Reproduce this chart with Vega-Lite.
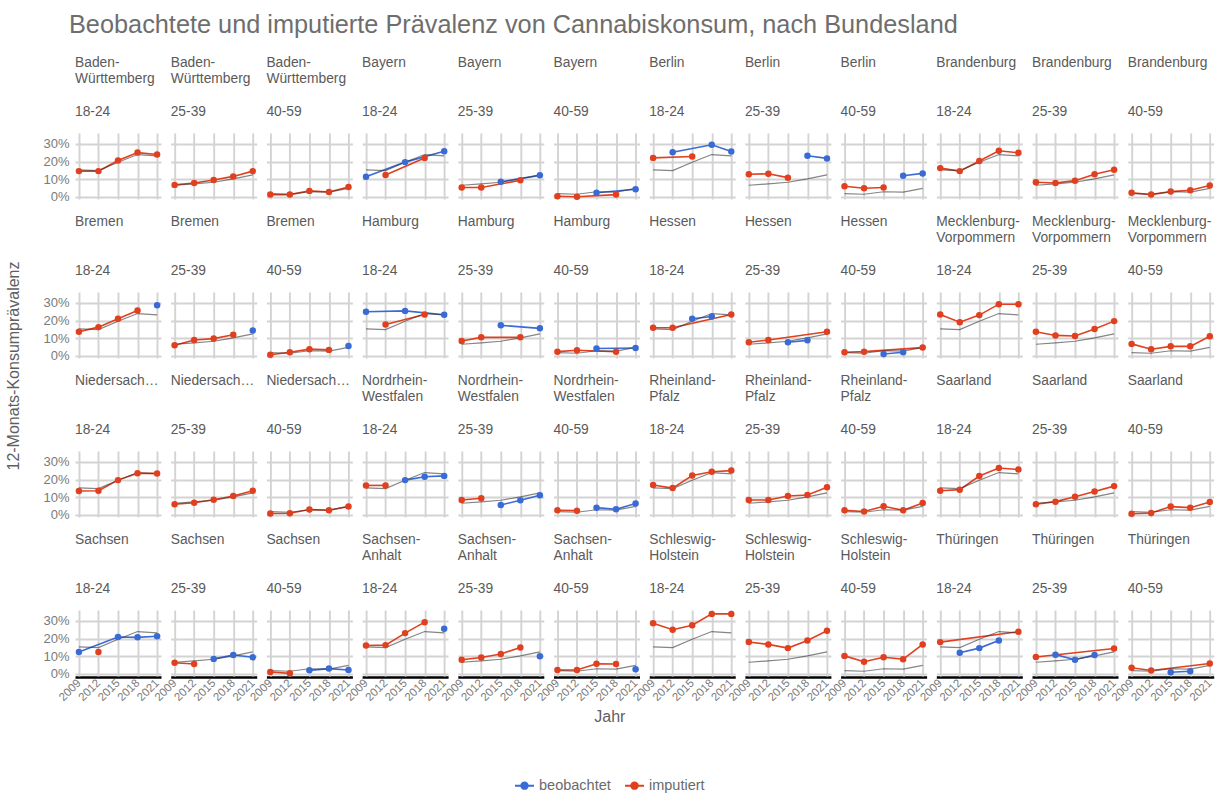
{
  "$schema": "https://vega.github.io/schema/vega-lite/v6.json",
  "padding": {"top": 12, "left": 5, "right": 5, "bottom": 5},
  "title": {"text": "Beobachtete und imputierte Prävalenz von Cannabiskonsum, nach Bundesland", "anchor": "start", "fontSize": 25.3, "fontWeight": "normal", "color": "#6e6e6e", "dx": 63, "offset": 18},
  "data": {"values": [
    {"land":"Baden-Württemberg","alter":"18-24","jahr":2009,"status":"imputiert","wert":14.6,"national":15.3},
    {"land":"Baden-Württemberg","alter":"18-24","jahr":2012,"status":"imputiert","wert":14.6,"national":14.9},
    {"land":"Baden-Württemberg","alter":"18-24","jahr":2015,"status":"imputiert","wert":20.6,"national":19.6},
    {"land":"Baden-Württemberg","alter":"18-24","jahr":2018,"status":"imputiert","wert":25.1,"national":24.0},
    {"land":"Baden-Württemberg","alter":"18-24","jahr":2021,"status":"imputiert","wert":24.0,"national":23.2},
    {"land":"Baden-Württemberg","alter":"25-39","jahr":2009,"status":"imputiert","wert":6.8,"national":6.6},
    {"land":"Baden-Württemberg","alter":"25-39","jahr":2012,"status":"imputiert","wert":7.9,"national":7.4},
    {"land":"Baden-Württemberg","alter":"25-39","jahr":2015,"status":"imputiert","wert":9.6,"national":8.3},
    {"land":"Baden-Württemberg","alter":"25-39","jahr":2018,"status":"imputiert","wert":11.6,"national":10.2},
    {"land":"Baden-Württemberg","alter":"25-39","jahr":2021,"status":"imputiert","wert":14.6,"national":12.5},
    {"land":"Baden-Württemberg","alter":"40-59","jahr":2009,"status":"imputiert","wert":1.3,"national":1.8},
    {"land":"Baden-Württemberg","alter":"40-59","jahr":2012,"status":"imputiert","wert":1.3,"national":1.5},
    {"land":"Baden-Württemberg","alter":"40-59","jahr":2015,"status":"imputiert","wert":3.4,"national":2.9},
    {"land":"Baden-Württemberg","alter":"40-59","jahr":2018,"status":"imputiert","wert":2.8,"national":2.7},
    {"land":"Baden-Württemberg","alter":"40-59","jahr":2021,"status":"imputiert","wert":5.6,"national":4.8},
    {"land":"Bayern","alter":"18-24","jahr":2009,"status":"beobachtet","wert":11.4,"national":15.3},
    {"land":"Bayern","alter":"18-24","jahr":2012,"status":"imputiert","wert":12.4,"national":14.9},
    {"land":"Bayern","alter":"18-24","jahr":2015,"status":"beobachtet","wert":19.7,"national":19.6},
    {"land":"Bayern","alter":"18-24","jahr":2018,"status":"imputiert","wert":22.0,"national":24.0},
    {"land":"Bayern","alter":"18-24","jahr":2021,"status":"beobachtet","wert":25.9,"national":23.2},
    {"land":"Bayern","alter":"25-39","jahr":2009,"status":"imputiert","wert":5.3,"national":6.6},
    {"land":"Bayern","alter":"25-39","jahr":2012,"status":"imputiert","wert":5.3,"national":7.4},
    {"land":"Bayern","alter":"25-39","jahr":2015,"status":"beobachtet","wert":8.6,"national":8.3},
    {"land":"Bayern","alter":"25-39","jahr":2018,"status":"imputiert","wert":9.4,"national":10.2},
    {"land":"Bayern","alter":"25-39","jahr":2021,"status":"beobachtet","wert":12.2,"national":12.5},
    {"land":"Bayern","alter":"40-59","jahr":2009,"status":"imputiert","wert":0.4,"national":1.8},
    {"land":"Bayern","alter":"40-59","jahr":2012,"status":"imputiert","wert":0.1,"national":1.5},
    {"land":"Bayern","alter":"40-59","jahr":2015,"status":"beobachtet","wert":2.3,"national":2.9},
    {"land":"Bayern","alter":"40-59","jahr":2018,"status":"imputiert","wert":1.3,"national":2.7},
    {"land":"Bayern","alter":"40-59","jahr":2021,"status":"beobachtet","wert":4.3,"national":4.8},
    {"land":"Berlin","alter":"18-24","jahr":2009,"status":"imputiert","wert":22.1,"national":15.3},
    {"land":"Berlin","alter":"18-24","jahr":2012,"status":"beobachtet","wert":25.3,"national":14.9},
    {"land":"Berlin","alter":"18-24","jahr":2015,"status":"imputiert","wert":22.9,"national":19.6},
    {"land":"Berlin","alter":"18-24","jahr":2018,"status":"beobachtet","wert":29.5,"national":24.0},
    {"land":"Berlin","alter":"18-24","jahr":2021,"status":"beobachtet","wert":25.7,"national":23.2},
    {"land":"Berlin","alter":"25-39","jahr":2009,"status":"imputiert","wert":12.8,"national":6.6},
    {"land":"Berlin","alter":"25-39","jahr":2012,"status":"imputiert","wert":13.1,"national":7.4},
    {"land":"Berlin","alter":"25-39","jahr":2015,"status":"imputiert","wert":10.9,"national":8.3},
    {"land":"Berlin","alter":"25-39","jahr":2018,"status":"beobachtet","wert":23.3,"national":10.2},
    {"land":"Berlin","alter":"25-39","jahr":2021,"status":"beobachtet","wert":21.8,"national":12.5},
    {"land":"Berlin","alter":"40-59","jahr":2009,"status":"imputiert","wert":6.0,"national":1.8},
    {"land":"Berlin","alter":"40-59","jahr":2012,"status":"imputiert","wert":4.9,"national":1.5},
    {"land":"Berlin","alter":"40-59","jahr":2015,"status":"imputiert","wert":5.3,"national":2.9},
    {"land":"Berlin","alter":"40-59","jahr":2018,"status":"beobachtet","wert":12.0,"national":2.7},
    {"land":"Berlin","alter":"40-59","jahr":2021,"status":"beobachtet","wert":13.3,"national":4.8},
    {"land":"Brandenburg","alter":"18-24","jahr":2009,"status":"imputiert","wert":16.3,"national":15.3},
    {"land":"Brandenburg","alter":"18-24","jahr":2012,"status":"imputiert","wert":14.6,"national":14.9},
    {"land":"Brandenburg","alter":"18-24","jahr":2015,"status":"imputiert","wert":20.3,"national":19.6},
    {"land":"Brandenburg","alter":"18-24","jahr":2018,"status":"imputiert","wert":26.1,"national":24.0},
    {"land":"Brandenburg","alter":"18-24","jahr":2021,"status":"imputiert","wert":25.0,"national":23.2},
    {"land":"Brandenburg","alter":"25-39","jahr":2009,"status":"imputiert","wert":8.3,"national":6.6},
    {"land":"Brandenburg","alter":"25-39","jahr":2012,"status":"imputiert","wert":7.9,"national":7.4},
    {"land":"Brandenburg","alter":"25-39","jahr":2015,"status":"imputiert","wert":9.2,"national":8.3},
    {"land":"Brandenburg","alter":"25-39","jahr":2018,"status":"imputiert","wert":12.8,"national":10.2},
    {"land":"Brandenburg","alter":"25-39","jahr":2021,"status":"imputiert","wert":15.4,"national":12.5},
    {"land":"Brandenburg","alter":"40-59","jahr":2009,"status":"imputiert","wert":2.3,"national":1.8},
    {"land":"Brandenburg","alter":"40-59","jahr":2012,"status":"imputiert","wert":1.3,"national":1.5},
    {"land":"Brandenburg","alter":"40-59","jahr":2015,"status":"imputiert","wert":3.0,"national":2.9},
    {"land":"Brandenburg","alter":"40-59","jahr":2018,"status":"imputiert","wert":3.8,"national":2.7},
    {"land":"Brandenburg","alter":"40-59","jahr":2021,"status":"imputiert","wert":6.4,"national":4.8},
    {"land":"Bremen","alter":"18-24","jahr":2009,"status":"imputiert","wert":13.7,"national":15.3},
    {"land":"Bremen","alter":"18-24","jahr":2012,"status":"imputiert","wert":16.3,"national":14.9},
    {"land":"Bremen","alter":"18-24","jahr":2015,"status":"imputiert","wert":21.0,"national":19.6},
    {"land":"Bremen","alter":"18-24","jahr":2018,"status":"imputiert","wert":25.7,"national":24.0},
    {"land":"Bremen","alter":"18-24","jahr":2021,"status":"beobachtet","wert":28.7,"national":23.2},
    {"land":"Bremen","alter":"25-39","jahr":2009,"status":"imputiert","wert":6.0,"national":6.6},
    {"land":"Bremen","alter":"25-39","jahr":2012,"status":"imputiert","wert":9.0,"national":7.4},
    {"land":"Bremen","alter":"25-39","jahr":2015,"status":"imputiert","wert":9.8,"national":8.3},
    {"land":"Bremen","alter":"25-39","jahr":2018,"status":"imputiert","wert":12.0,"national":10.2},
    {"land":"Bremen","alter":"25-39","jahr":2021,"status":"beobachtet","wert":14.4,"national":12.5},
    {"land":"Bremen","alter":"40-59","jahr":2009,"status":"imputiert","wert":0.6,"national":1.8},
    {"land":"Bremen","alter":"40-59","jahr":2012,"status":"imputiert","wert":2.1,"national":1.5},
    {"land":"Bremen","alter":"40-59","jahr":2015,"status":"imputiert","wert":3.8,"national":2.9},
    {"land":"Bremen","alter":"40-59","jahr":2018,"status":"imputiert","wert":3.4,"national":2.7},
    {"land":"Bremen","alter":"40-59","jahr":2021,"status":"beobachtet","wert":5.6,"national":4.8},
    {"land":"Hamburg","alter":"18-24","jahr":2009,"status":"beobachtet","wert":25.0,"national":15.3},
    {"land":"Hamburg","alter":"18-24","jahr":2012,"status":"imputiert","wert":17.8,"national":14.9},
    {"land":"Hamburg","alter":"18-24","jahr":2015,"status":"beobachtet","wert":25.5,"national":19.6},
    {"land":"Hamburg","alter":"18-24","jahr":2018,"status":"imputiert","wert":23.5,"national":24.0},
    {"land":"Hamburg","alter":"18-24","jahr":2021,"status":"beobachtet","wert":23.3,"national":23.2},
    {"land":"Hamburg","alter":"25-39","jahr":2009,"status":"imputiert","wert":8.4,"national":6.6},
    {"land":"Hamburg","alter":"25-39","jahr":2012,"status":"imputiert","wert":10.5,"national":7.4},
    {"land":"Hamburg","alter":"25-39","jahr":2015,"status":"beobachtet","wert":17.3,"national":8.3},
    {"land":"Hamburg","alter":"25-39","jahr":2018,"status":"imputiert","wert":10.5,"national":10.2},
    {"land":"Hamburg","alter":"25-39","jahr":2021,"status":"beobachtet","wert":15.6,"national":12.5},
    {"land":"Hamburg","alter":"40-59","jahr":2009,"status":"imputiert","wert":2.4,"national":1.8},
    {"land":"Hamburg","alter":"40-59","jahr":2012,"status":"imputiert","wert":3.2,"national":1.5},
    {"land":"Hamburg","alter":"40-59","jahr":2015,"status":"beobachtet","wert":4.2,"national":2.9},
    {"land":"Hamburg","alter":"40-59","jahr":2018,"status":"imputiert","wert":2.3,"national":2.7},
    {"land":"Hamburg","alter":"40-59","jahr":2021,"status":"beobachtet","wert":4.5,"national":4.8},
    {"land":"Hessen","alter":"18-24","jahr":2009,"status":"imputiert","wert":15.9,"national":15.3},
    {"land":"Hessen","alter":"18-24","jahr":2012,"status":"imputiert","wert":15.9,"national":14.9},
    {"land":"Hessen","alter":"18-24","jahr":2015,"status":"beobachtet","wert":21.0,"national":19.6},
    {"land":"Hessen","alter":"18-24","jahr":2018,"status":"beobachtet","wert":22.3,"national":24.0},
    {"land":"Hessen","alter":"18-24","jahr":2021,"status":"imputiert","wert":23.5,"national":23.2},
    {"land":"Hessen","alter":"25-39","jahr":2009,"status":"imputiert","wert":7.7,"national":6.6},
    {"land":"Hessen","alter":"25-39","jahr":2012,"status":"imputiert","wert":9.0,"national":7.4},
    {"land":"Hessen","alter":"25-39","jahr":2015,"status":"beobachtet","wert":7.7,"national":8.3},
    {"land":"Hessen","alter":"25-39","jahr":2018,"status":"beobachtet","wert":8.8,"national":10.2},
    {"land":"Hessen","alter":"25-39","jahr":2021,"status":"imputiert","wert":13.7,"national":12.5},
    {"land":"Hessen","alter":"40-59","jahr":2009,"status":"imputiert","wert":2.1,"national":1.8},
    {"land":"Hessen","alter":"40-59","jahr":2012,"status":"imputiert","wert":2.4,"national":1.5},
    {"land":"Hessen","alter":"40-59","jahr":2015,"status":"beobachtet","wert":1.1,"national":2.9},
    {"land":"Hessen","alter":"40-59","jahr":2018,"status":"beobachtet","wert":2.1,"national":2.7},
    {"land":"Hessen","alter":"40-59","jahr":2021,"status":"imputiert","wert":4.7,"national":4.8},
    {"land":"Mecklenburg-Vorpommern","alter":"18-24","jahr":2009,"status":"imputiert","wert":23.5,"national":15.3},
    {"land":"Mecklenburg-Vorpommern","alter":"18-24","jahr":2012,"status":"imputiert","wert":19.1,"national":14.9},
    {"land":"Mecklenburg-Vorpommern","alter":"18-24","jahr":2015,"status":"imputiert","wert":23.1,"national":19.6},
    {"land":"Mecklenburg-Vorpommern","alter":"18-24","jahr":2018,"status":"imputiert","wert":29.3,"national":24.0},
    {"land":"Mecklenburg-Vorpommern","alter":"18-24","jahr":2021,"status":"imputiert","wert":29.3,"national":23.2},
    {"land":"Mecklenburg-Vorpommern","alter":"25-39","jahr":2009,"status":"imputiert","wert":13.7,"national":6.6},
    {"land":"Mecklenburg-Vorpommern","alter":"25-39","jahr":2012,"status":"imputiert","wert":11.6,"national":7.4},
    {"land":"Mecklenburg-Vorpommern","alter":"25-39","jahr":2015,"status":"imputiert","wert":11.3,"national":8.3},
    {"land":"Mecklenburg-Vorpommern","alter":"25-39","jahr":2018,"status":"imputiert","wert":15.2,"national":10.2},
    {"land":"Mecklenburg-Vorpommern","alter":"25-39","jahr":2021,"status":"imputiert","wert":19.7,"national":12.5},
    {"land":"Mecklenburg-Vorpommern","alter":"40-59","jahr":2009,"status":"imputiert","wert":6.8,"national":1.8},
    {"land":"Mecklenburg-Vorpommern","alter":"40-59","jahr":2012,"status":"imputiert","wert":3.8,"national":1.5},
    {"land":"Mecklenburg-Vorpommern","alter":"40-59","jahr":2015,"status":"imputiert","wert":5.4,"national":2.9},
    {"land":"Mecklenburg-Vorpommern","alter":"40-59","jahr":2018,"status":"imputiert","wert":5.4,"national":2.7},
    {"land":"Mecklenburg-Vorpommern","alter":"40-59","jahr":2021,"status":"imputiert","wert":11.1,"national":4.8},
    {"land":"Niedersachsen","alter":"18-24","jahr":2009,"status":"imputiert","wert":13.5,"national":15.3},
    {"land":"Niedersachsen","alter":"18-24","jahr":2012,"status":"imputiert","wert":13.7,"national":14.9},
    {"land":"Niedersachsen","alter":"18-24","jahr":2015,"status":"imputiert","wert":19.7,"national":19.6},
    {"land":"Niedersachsen","alter":"18-24","jahr":2018,"status":"imputiert","wert":23.6,"national":24.0},
    {"land":"Niedersachsen","alter":"18-24","jahr":2021,"status":"imputiert","wert":23.5,"national":23.2},
    {"land":"Niedersachsen","alter":"25-39","jahr":2009,"status":"imputiert","wert":6.0,"national":6.6},
    {"land":"Niedersachsen","alter":"25-39","jahr":2012,"status":"imputiert","wert":6.9,"national":7.4},
    {"land":"Niedersachsen","alter":"25-39","jahr":2015,"status":"imputiert","wert":8.6,"national":8.3},
    {"land":"Niedersachsen","alter":"25-39","jahr":2018,"status":"imputiert","wert":10.7,"national":10.2},
    {"land":"Niedersachsen","alter":"25-39","jahr":2021,"status":"imputiert","wert":13.7,"national":12.5},
    {"land":"Niedersachsen","alter":"40-59","jahr":2009,"status":"imputiert","wert":0.8,"national":1.8},
    {"land":"Niedersachsen","alter":"40-59","jahr":2012,"status":"imputiert","wert":0.9,"national":1.5},
    {"land":"Niedersachsen","alter":"40-59","jahr":2015,"status":"imputiert","wert":3.0,"national":2.9},
    {"land":"Niedersachsen","alter":"40-59","jahr":2018,"status":"imputiert","wert":2.6,"national":2.7},
    {"land":"Niedersachsen","alter":"40-59","jahr":2021,"status":"imputiert","wert":4.7,"national":4.8},
    {"land":"Nordrhein-Westfalen","alter":"18-24","jahr":2009,"status":"imputiert","wert":16.7,"national":15.3},
    {"land":"Nordrhein-Westfalen","alter":"18-24","jahr":2012,"status":"imputiert","wert":16.7,"national":14.9},
    {"land":"Nordrhein-Westfalen","alter":"18-24","jahr":2015,"status":"beobachtet","wert":19.7,"national":19.6},
    {"land":"Nordrhein-Westfalen","alter":"18-24","jahr":2018,"status":"beobachtet","wert":21.6,"national":24.0},
    {"land":"Nordrhein-Westfalen","alter":"18-24","jahr":2021,"status":"beobachtet","wert":22.1,"national":23.2},
    {"land":"Nordrhein-Westfalen","alter":"25-39","jahr":2009,"status":"imputiert","wert":8.4,"national":6.6},
    {"land":"Nordrhein-Westfalen","alter":"25-39","jahr":2012,"status":"imputiert","wert":9.4,"national":7.4},
    {"land":"Nordrhein-Westfalen","alter":"25-39","jahr":2015,"status":"beobachtet","wert":5.6,"national":8.3},
    {"land":"Nordrhein-Westfalen","alter":"25-39","jahr":2018,"status":"beobachtet","wert":8.3,"national":10.2},
    {"land":"Nordrhein-Westfalen","alter":"25-39","jahr":2021,"status":"beobachtet","wert":11.1,"national":12.5},
    {"land":"Nordrhein-Westfalen","alter":"40-59","jahr":2009,"status":"imputiert","wert":2.6,"national":1.8},
    {"land":"Nordrhein-Westfalen","alter":"40-59","jahr":2012,"status":"imputiert","wert":2.4,"national":1.5},
    {"land":"Nordrhein-Westfalen","alter":"40-59","jahr":2015,"status":"beobachtet","wert":4.1,"national":2.9},
    {"land":"Nordrhein-Westfalen","alter":"40-59","jahr":2018,"status":"beobachtet","wert":3.2,"national":2.7},
    {"land":"Nordrhein-Westfalen","alter":"40-59","jahr":2021,"status":"beobachtet","wert":6.4,"national":4.8},
    {"land":"Rheinland-Pfalz","alter":"18-24","jahr":2009,"status":"imputiert","wert":16.9,"national":15.3},
    {"land":"Rheinland-Pfalz","alter":"18-24","jahr":2012,"status":"imputiert","wert":15.2,"national":14.9},
    {"land":"Rheinland-Pfalz","alter":"18-24","jahr":2015,"status":"imputiert","wert":22.3,"national":19.6},
    {"land":"Rheinland-Pfalz","alter":"18-24","jahr":2018,"status":"imputiert","wert":24.4,"national":24.0},
    {"land":"Rheinland-Pfalz","alter":"18-24","jahr":2021,"status":"imputiert","wert":25.1,"national":23.2},
    {"land":"Rheinland-Pfalz","alter":"25-39","jahr":2009,"status":"imputiert","wert":8.4,"national":6.6},
    {"land":"Rheinland-Pfalz","alter":"25-39","jahr":2012,"status":"imputiert","wert":8.4,"national":7.4},
    {"land":"Rheinland-Pfalz","alter":"25-39","jahr":2015,"status":"imputiert","wert":10.7,"national":8.3},
    {"land":"Rheinland-Pfalz","alter":"25-39","jahr":2018,"status":"imputiert","wert":11.3,"national":10.2},
    {"land":"Rheinland-Pfalz","alter":"25-39","jahr":2021,"status":"imputiert","wert":15.6,"national":12.5},
    {"land":"Rheinland-Pfalz","alter":"40-59","jahr":2009,"status":"imputiert","wert":2.6,"national":1.8},
    {"land":"Rheinland-Pfalz","alter":"40-59","jahr":2012,"status":"imputiert","wert":1.9,"national":1.5},
    {"land":"Rheinland-Pfalz","alter":"40-59","jahr":2015,"status":"imputiert","wert":4.9,"national":2.9},
    {"land":"Rheinland-Pfalz","alter":"40-59","jahr":2018,"status":"imputiert","wert":2.6,"national":2.7},
    {"land":"Rheinland-Pfalz","alter":"40-59","jahr":2021,"status":"imputiert","wert":6.8,"national":4.8},
    {"land":"Saarland","alter":"18-24","jahr":2009,"status":"imputiert","wert":13.7,"national":15.3},
    {"land":"Saarland","alter":"18-24","jahr":2012,"status":"imputiert","wert":14.3,"national":14.9},
    {"land":"Saarland","alter":"18-24","jahr":2015,"status":"imputiert","wert":22.0,"national":19.6},
    {"land":"Saarland","alter":"18-24","jahr":2018,"status":"imputiert","wert":26.6,"national":24.0},
    {"land":"Saarland","alter":"18-24","jahr":2021,"status":"imputiert","wert":25.7,"national":23.2},
    {"land":"Saarland","alter":"25-39","jahr":2009,"status":"imputiert","wert":6.0,"national":6.6},
    {"land":"Saarland","alter":"25-39","jahr":2012,"status":"imputiert","wert":7.5,"national":7.4},
    {"land":"Saarland","alter":"25-39","jahr":2015,"status":"imputiert","wert":10.3,"national":8.3},
    {"land":"Saarland","alter":"25-39","jahr":2018,"status":"imputiert","wert":13.3,"national":10.2},
    {"land":"Saarland","alter":"25-39","jahr":2021,"status":"imputiert","wert":16.3,"national":12.5},
    {"land":"Saarland","alter":"40-59","jahr":2009,"status":"imputiert","wert":0.6,"national":1.8},
    {"land":"Saarland","alter":"40-59","jahr":2012,"status":"imputiert","wert":1.1,"national":1.5},
    {"land":"Saarland","alter":"40-59","jahr":2015,"status":"imputiert","wert":4.7,"national":2.9},
    {"land":"Saarland","alter":"40-59","jahr":2018,"status":"imputiert","wert":4.1,"national":2.7},
    {"land":"Saarland","alter":"40-59","jahr":2021,"status":"imputiert","wert":7.3,"national":4.8},
    {"land":"Sachsen","alter":"18-24","jahr":2009,"status":"beobachtet","wert":12.4,"national":15.3},
    {"land":"Sachsen","alter":"18-24","jahr":2012,"status":"imputiert","wert":12.4,"national":14.9},
    {"land":"Sachsen","alter":"18-24","jahr":2015,"status":"beobachtet","wert":20.9,"national":19.6},
    {"land":"Sachsen","alter":"18-24","jahr":2018,"status":"beobachtet","wert":20.7,"national":24.0},
    {"land":"Sachsen","alter":"18-24","jahr":2021,"status":"beobachtet","wert":21.3,"national":23.2},
    {"land":"Sachsen","alter":"25-39","jahr":2009,"status":"imputiert","wert":6.3,"national":6.6},
    {"land":"Sachsen","alter":"25-39","jahr":2012,"status":"imputiert","wert":5.6,"national":7.4},
    {"land":"Sachsen","alter":"25-39","jahr":2015,"status":"beobachtet","wert":8.5,"national":8.3},
    {"land":"Sachsen","alter":"25-39","jahr":2018,"status":"beobachtet","wert":10.7,"national":10.2},
    {"land":"Sachsen","alter":"25-39","jahr":2021,"status":"beobachtet","wert":9.4,"national":12.5},
    {"land":"Sachsen","alter":"40-59","jahr":2009,"status":"imputiert","wert":1.1,"national":1.8},
    {"land":"Sachsen","alter":"40-59","jahr":2012,"status":"imputiert","wert":0.3,"national":1.5},
    {"land":"Sachsen","alter":"40-59","jahr":2015,"status":"beobachtet","wert":2.0,"national":2.9},
    {"land":"Sachsen","alter":"40-59","jahr":2018,"status":"beobachtet","wert":3.0,"national":2.7},
    {"land":"Sachsen","alter":"40-59","jahr":2021,"status":"beobachtet","wert":2.2,"national":4.8},
    {"land":"Sachsen-Anhalt","alter":"18-24","jahr":2009,"status":"imputiert","wert":16.1,"national":15.3},
    {"land":"Sachsen-Anhalt","alter":"18-24","jahr":2012,"status":"imputiert","wert":16.3,"national":14.9},
    {"land":"Sachsen-Anhalt","alter":"18-24","jahr":2015,"status":"imputiert","wert":23.1,"national":19.6},
    {"land":"Sachsen-Anhalt","alter":"18-24","jahr":2018,"status":"imputiert","wert":29.3,"national":24.0},
    {"land":"Sachsen-Anhalt","alter":"18-24","jahr":2021,"status":"beobachtet","wert":25.6,"national":23.2},
    {"land":"Sachsen-Anhalt","alter":"25-39","jahr":2009,"status":"imputiert","wert":8.0,"national":6.6},
    {"land":"Sachsen-Anhalt","alter":"25-39","jahr":2012,"status":"imputiert","wert":9.3,"national":7.4},
    {"land":"Sachsen-Anhalt","alter":"25-39","jahr":2015,"status":"imputiert","wert":11.3,"national":8.3},
    {"land":"Sachsen-Anhalt","alter":"25-39","jahr":2018,"status":"imputiert","wert":15.0,"national":10.2},
    {"land":"Sachsen-Anhalt","alter":"25-39","jahr":2021,"status":"beobachtet","wert":10.0,"national":12.5},
    {"land":"Sachsen-Anhalt","alter":"40-59","jahr":2009,"status":"imputiert","wert":2.2,"national":1.8},
    {"land":"Sachsen-Anhalt","alter":"40-59","jahr":2012,"status":"imputiert","wert":2.2,"national":1.5},
    {"land":"Sachsen-Anhalt","alter":"40-59","jahr":2015,"status":"imputiert","wert":5.7,"national":2.9},
    {"land":"Sachsen-Anhalt","alter":"40-59","jahr":2018,"status":"imputiert","wert":5.6,"national":2.7},
    {"land":"Sachsen-Anhalt","alter":"40-59","jahr":2021,"status":"beobachtet","wert":2.6,"national":4.8},
    {"land":"Schleswig-Holstein","alter":"18-24","jahr":2009,"status":"imputiert","wert":28.7,"national":15.3},
    {"land":"Schleswig-Holstein","alter":"18-24","jahr":2012,"status":"imputiert","wert":25.0,"national":14.9},
    {"land":"Schleswig-Holstein","alter":"18-24","jahr":2015,"status":"imputiert","wert":27.6,"national":19.6},
    {"land":"Schleswig-Holstein","alter":"18-24","jahr":2018,"status":"imputiert","wert":34.0,"national":24.0},
    {"land":"Schleswig-Holstein","alter":"18-24","jahr":2021,"status":"imputiert","wert":34.0,"national":23.2},
    {"land":"Schleswig-Holstein","alter":"25-39","jahr":2009,"status":"imputiert","wert":18.1,"national":6.6},
    {"land":"Schleswig-Holstein","alter":"25-39","jahr":2012,"status":"imputiert","wert":16.7,"national":7.4},
    {"land":"Schleswig-Holstein","alter":"25-39","jahr":2015,"status":"imputiert","wert":14.6,"national":8.3},
    {"land":"Schleswig-Holstein","alter":"25-39","jahr":2018,"status":"imputiert","wert":18.9,"national":10.2},
    {"land":"Schleswig-Holstein","alter":"25-39","jahr":2021,"status":"imputiert","wert":24.4,"national":12.5},
    {"land":"Schleswig-Holstein","alter":"40-59","jahr":2009,"status":"imputiert","wert":10.2,"national":1.8},
    {"land":"Schleswig-Holstein","alter":"40-59","jahr":2012,"status":"imputiert","wert":6.9,"national":1.5},
    {"land":"Schleswig-Holstein","alter":"40-59","jahr":2015,"status":"imputiert","wert":9.4,"national":2.9},
    {"land":"Schleswig-Holstein","alter":"40-59","jahr":2018,"status":"imputiert","wert":8.3,"national":2.7},
    {"land":"Schleswig-Holstein","alter":"40-59","jahr":2021,"status":"imputiert","wert":16.7,"national":4.8},
    {"land":"Thüringen","alter":"18-24","jahr":2009,"status":"imputiert","wert":18.0,"national":15.3},
    {"land":"Thüringen","alter":"18-24","jahr":2012,"status":"beobachtet","wert":12.0,"national":14.9},
    {"land":"Thüringen","alter":"18-24","jahr":2015,"status":"beobachtet","wert":14.6,"national":19.6},
    {"land":"Thüringen","alter":"18-24","jahr":2018,"status":"beobachtet","wert":18.9,"national":24.0},
    {"land":"Thüringen","alter":"18-24","jahr":2021,"status":"imputiert","wert":23.9,"national":23.2},
    {"land":"Thüringen","alter":"25-39","jahr":2009,"status":"imputiert","wert":9.6,"national":6.6},
    {"land":"Thüringen","alter":"25-39","jahr":2012,"status":"beobachtet","wert":10.9,"national":7.4},
    {"land":"Thüringen","alter":"25-39","jahr":2015,"status":"beobachtet","wert":8.0,"national":8.3},
    {"land":"Thüringen","alter":"25-39","jahr":2018,"status":"beobachtet","wert":10.7,"national":10.2},
    {"land":"Thüringen","alter":"25-39","jahr":2021,"status":"imputiert","wert":14.4,"national":12.5},
    {"land":"Thüringen","alter":"40-59","jahr":2009,"status":"imputiert","wert":3.5,"national":1.8},
    {"land":"Thüringen","alter":"40-59","jahr":2012,"status":"imputiert","wert":1.9,"national":1.5},
    {"land":"Thüringen","alter":"40-59","jahr":2015,"status":"beobachtet","wert":0.9,"national":2.9},
    {"land":"Thüringen","alter":"40-59","jahr":2018,"status":"beobachtet","wert":1.5,"national":2.7},
    {"land":"Thüringen","alter":"40-59","jahr":2021,"status":"imputiert","wert":5.9,"national":4.8}
  ]},
  "vconcat": [
    {
      "title": {"text": "Jahr", "orient": "bottom", "anchor": "middle", "fontSize": 16, "fontWeight": "normal", "color": "#5f5f5f", "offset": 6},
      "transform": [{"calculate": "datum.land + ',' + datum.alter", "as": "panel"}],
      "facet": {
        "field": "panel",
        "type": "nominal",
        "header": {
          "title": "12-Monats-Konsumprävalenz",
          "titleOrient": "left",
          "titleAngle": -90,
          "titleFontSize": 16,
          "titleFontWeight": "normal",
          "titleColor": "#5f5f5f",
          "titlePadding": 4,
          "labelExpr": "indexof(split(datum.value, ',')[0], '-') > 0 ? [split(split(datum.value, ',')[0], '-')[0] + '-', split(split(datum.value, ',')[0], '-')[1], '\u2800', split(datum.value, ',')[1]] : [split(datum.value, ',')[0], '\u2800', '\u2800', split(datum.value, ',')[1]]",
          "labelAlign": "left",
          "labelAnchor": "start",
          "labelFontSize": 13.8,
          "labelColor": "#5a5a5a",
          "labelLineHeight": 16.4,
          "labelBaseline": "bottom",
          "labelPadding": 0,
          "labelLimit": 86
        }
      },
      "columns": 12,
      "spacing": {"row": 15, "column": 9.7},
      "spec": {
        "width": 86,
        "height": 66,
        "layer": [
          {
            "mark": {"type": "line", "strokeWidth": 1.6},
            "encoding": {
              "x": {
                "field": "jahr", "type": "quantitative", "title": null,
                "scale": {"domain": [2008.4, 2021.6], "nice": false, "zero": false},
                "axis": {"values": [2009, 2012, 2015, 2018, 2021], "tickCount": 10, "format": "d", "labelAngle": -45, "labelAlign": "right", "labelBaseline": "middle", "labelPadding": 4, "labelOverlap": false, "labelFlush": false}
              },
              "y": {
                "field": "wert", "type": "quantitative", "title": null,
                "scale": {"domain": [-1.2, 36.2], "nice": false, "zero": false},
                "axis": {"values": [0, 10, 20, 30], "tickCount": 10, "labelExpr": "datum.value + '%'", "domain": false, "labelOverlap": false, "labelFlush": false, "labelPadding": 6}
              },
              "color": {
                "field": "status", "type": "nominal",
                "scale": {"domain": ["beobachtet", "imputiert"], "range": ["#3a6bd5", "#e0401f"]},
                "legend": {
                  "title": null, "orient": "bottom", "direction": "horizontal",
                  "symbolType": "M-1,0L1,0M0.34,0A0.34,0.34,0,1,1,-0.34,0A0.34,0.34,0,1,1,0.34,0",
                  "symbolSize": 360, "symbolStrokeWidth": 2, "labelFontSize": 14.5, "labelColor": "#6a6a6a", "offset": 50,
                  "encode": {"symbols": {"update": {"fill": {"scale": "color", "field": "value"}, "stroke": {"scale": "color", "field": "value"}}}}
                }
              }
            }
          },
          {
            "mark": {"type": "line", "color": "#333333", "opacity": 0.6, "strokeWidth": 1.2},
            "encoding": {
              "x": {"field": "jahr", "type": "quantitative"},
              "y": {"field": "national", "type": "quantitative"}
            }
          },
          {
            "mark": {"type": "circle", "size": 42, "opacity": 1},
            "encoding": {
              "x": {"field": "jahr", "type": "quantitative"},
              "y": {"field": "wert", "type": "quantitative"},
              "color": {"field": "status", "type": "nominal"}
            }
          }
        ]
      }
    }
  ],
  "config": {
    "font": "Liberation Sans",
    "view": {"stroke": null},
    "legend": {"layout": {"bottom": {"anchor": "middle"}}},
    "axis": {
      "title": null,
      "gridColor": "#d3d3d3",
      "gridWidth": 1.9,
      "ticks": false,
      "labelColor": "#7a7a7a",
      "labelFontSize": 13,
      "domainColor": "#000000",
      "domainWidth": 2.5
    },
    "axisX": {"labelFontSize": 11.5},
    "axisY": {"labelFontSize": 13}
  }
}
